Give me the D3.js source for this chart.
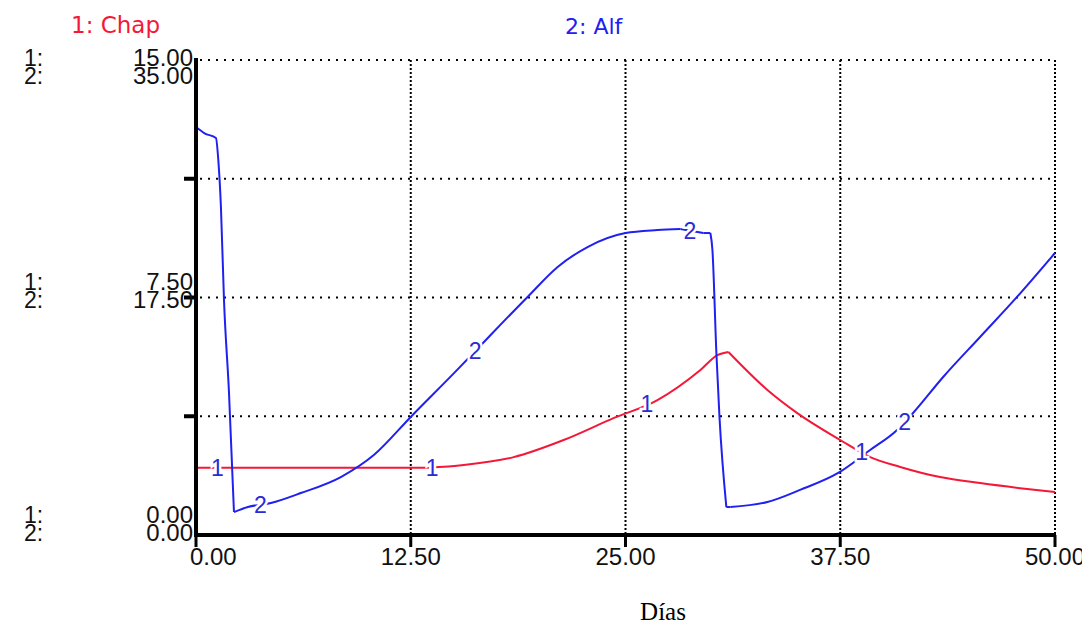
<!DOCTYPE html>
<html>
<head>
<meta charset="utf-8">
<script src="https://cdn.jsdelivr.net/npm/d3@7"></script>
<style>
  html, body { margin: 0; padding: 0; background: #ffffff; }
  svg { display: block; }
</style>
</head>
<body>
<svg id="chart" width="1082" height="631"></svg>
<script>
// ---------- data ----------
const seriesNames = ["1: Chap", "2: Alf"];
const xLabel = "Días";

// time axis
const xTicks = [0, 12.5, 25, 37.5, 50];
const xTickLabels = ["0.00", "12.50", "25.00", "37.50", "50.00"];

// series 1 axis (Chap) and series 2 axis (Alf)
const y1Ticks = [0, 7.5, 15];
const y1TickLabels = ["0.00", "7.50", "15.00"];
const y2Ticks = [0, 17.5, 35];
const y2TickLabels = ["0.00", "17.50", "35.00"];
const gridFractions = [0.25, 0.5, 0.75, 1.0];

// series 1: Chap
const chapT = [0, 13.5, 15.58, 18.49, 21.4, 24.3, 26.86, 29.36, 30.35, 30.99, 33.26, 35.0, 37.5, 39.24, 40.99, 43.31, 45.64, 47.97, 50];
const chap  = [2.12, 2.12, 2.21, 2.46, 3.0, 3.69, 4.26, 5.21, 5.68, 5.78, 4.58, 3.85, 3.0, 2.46, 2.15, 1.83, 1.64, 1.48, 1.36];

// series 2: Alf
const alfT = [0, 0.5, 1.16, 1.3, 1.45, 1.63, 1.92, 2.21, 3.02, 4.36, 6.10, 8.43, 10.35, 12.5, 15.23, 17.15, 19.3, 21.05, 22.79, 25.0, 26.86, 28.2, 29.53, 29.94, 30.06, 30.29, 30.47, 30.87, 31.1, 33.26, 35.16, 37.38, 39.24, 40.81, 41.74, 43.49, 45.64, 47.79, 50];
const alf  = [30.06, 29.6, 29.25, 27.6, 24.2, 17.3, 10.5, 1.69, 2.06, 2.36, 3.09, 4.27, 5.89, 8.7, 12.2, 14.74, 17.54, 19.75, 21.22, 22.25, 22.47, 22.55, 22.25, 22.25, 21.0, 13.41, 8.69, 2.06, 2.06, 2.43, 3.32, 4.57, 6.26, 7.74, 8.99, 11.64, 14.59, 17.54, 20.78];

// positions of the line-identifying numbers along each curve (time)
const chapLabelT = [1.25, 13.75, 26.25, 38.75];
const alfLabelT  = [3.75, 16.25, 28.75, 41.25];

// ---------- drawing ----------
const svg = d3.select("#chart");
const RED = "#f41838", BLUE = "#2020f0", LABELBLUE = "#2a2ad6";
const numFont = "'Liberation Sans', Arial, sans-serif";

const x = d3.scaleLinear().domain([0, 50]).range([196, 1055]);
const y1 = d3.scaleLinear().domain([0, 15]).range([535, 60]);
const y2 = d3.scaleLinear().domain([0, 35]).range([535, 60]);

// legend
svg.append("text").attr("x", 71).attr("y", 33).attr("fill", RED)
  .attr("font-family", "'DejaVu Sans', sans-serif").attr("font-size", 23).text(seriesNames[0]);
svg.append("text").attr("x", 565).attr("y", 34).attr("fill", BLUE)
  .attr("font-family", "'DejaVu Sans', sans-serif").attr("font-size", 22).text(seriesNames[1]);

// horizontal dotted grid
const g = svg.append("g");
gridFractions.forEach(f => {
  const yy = y1(15 * f);
  g.append("line").attr("x1", x(0) + 4).attr("x2", x(50)).attr("y1", yy).attr("y2", yy)
    .attr("stroke", "#000").attr("stroke-width", 2).attr("stroke-dasharray", "2,6");
});
// vertical dotted grid
xTicks.slice(1).forEach(t => {
  g.append("line").attr("x1", x(t)).attr("x2", x(t)).attr("y1", y1(15)).attr("y2", y1(0))
    .attr("stroke", "#000").attr("stroke-width", 2).attr("stroke-dasharray", "2,2");
});

// lines: smooth monotone pieces, broken at turning points so corners stay sharp
function pieces(ts, vs) {
  const pts = ts.map((t, i) => [t, vs[i]]);
  const out = [];
  let cur = [pts[0]];
  for (let i = 1; i < pts.length; i++) {
    cur.push(pts[i]);
    if (i < pts.length - 1) {
      const a = pts[i][1] - pts[i - 1][1], b = pts[i + 1][1] - pts[i][1];
      if (a * b < 0 || (a !== 0 && b === 0) || (a === 0 && b !== 0)) {
        out.push(cur);
        cur = [pts[i]];
      }
    }
  }
  out.push(cur);
  return out;
}
function drawSeries(ts, vs, yScale, color) {
  const ln = d3.line().x(d => x(d[0])).y(d => yScale(d[1])).curve(d3.curveMonotoneX);
  pieces(ts, vs).forEach(p => {
    svg.append("path").attr("d", ln(p)).attr("fill", "none").attr("stroke", color)
      .attr("stroke-width", 2).attr("stroke-linejoin", "round");
  });
}
drawSeries(chapT, chap, y1, RED);
drawSeries(alfT, alf, y2, BLUE);

// curve-number labels
function interp(ts, vs, t) {
  for (let i = 1; i < ts.length; i++) {
    if (t <= ts[i]) {
      const f = (t - ts[i - 1]) / (ts[i] - ts[i - 1]);
      return vs[i - 1] + f * (vs[i] - vs[i - 1]);
    }
  }
  return vs[vs.length - 1];
}
function curveLabels(ts, vs, lt, yScale, txt) {
  lt.forEach(t => {
    svg.append("text").attr("x", x(t)).attr("y", yScale(interp(ts, vs, t)) + 8)
      .attr("text-anchor", "middle").attr("font-family", numFont).attr("font-size", 23)
      .attr("fill", LABELBLUE).attr("stroke", "#fff").attr("stroke-width", 5)
      .attr("paint-order", "stroke").text(txt);
  });
}
curveLabels(chapT, chap, chapLabelT, y1, "1");
curveLabels(alfT, alf, alfLabelT, y2, "2");

// axes
svg.append("line").attr("x1", x(0)).attr("x2", x(0)).attr("y1", y1(15) - 2).attr("y2", y1(0) + 2)
  .attr("stroke", "#000").attr("stroke-width", 4);
svg.append("line").attr("x1", x(0) - 2).attr("x2", x(50) + 1).attr("y1", y1(0)).attr("y2", y1(0))
  .attr("stroke", "#000").attr("stroke-width", 4);

// left tick marks
gridFractions.slice(0, 3).forEach(f => {
  svg.append("line").attr("x1", x(0) - 12).attr("x2", x(0)).attr("y1", y1(15 * f)).attr("y2", y1(15 * f))
    .attr("stroke", "#000").attr("stroke-width", 4);
});
// bottom tick marks
xTicks.forEach(t => {
  svg.append("line").attr("x1", x(t)).attr("x2", x(t)).attr("y1", y1(0)).attr("y2", y1(0) + 12)
    .attr("stroke", "#000").attr("stroke-width", 3);
});

// x tick labels
xTicks.forEach((t, i) => {
  const first = i === 0;
  svg.append("text").attr("x", first ? x(t) - 6 : x(t)).attr("y", 565)
    .attr("text-anchor", first ? "start" : "middle")
    .attr("font-family", numFont).attr("font-size", 24).attr("fill", "#111")
    .text(xTickLabels[i]);
});

// y tick labels (paired: series 1 above series 2)
y1Ticks.forEach((t, i) => {
  const yy = y1(t);
  const b2 = Math.max(84, Math.min(541, yy + 10));
  const b1 = b2 - 18;
  svg.append("text").attr("x", 193).attr("y", b1).attr("text-anchor", "end")
    .attr("font-family", numFont).attr("font-size", 24).attr("fill", "#111").text(y1TickLabels[i]);
  svg.append("text").attr("x", 193).attr("y", b2).attr("text-anchor", "end")
    .attr("font-family", numFont).attr("font-size", 24).attr("fill", "#111").text(y2TickLabels[i]);
  svg.append("text").attr("x", 24).attr("y", b1)
    .attr("font-family", numFont).attr("font-size", 23).attr("fill", "#111").text("1:");
  svg.append("text").attr("x", 24).attr("y", b2)
    .attr("font-family", numFont).attr("font-size", 23).attr("fill", "#111").text("2:");
});

// x axis title
svg.append("text").attr("x", 663).attr("y", 620).attr("text-anchor", "middle")
  .attr("font-family", "'Liberation Serif', 'Times New Roman', serif").attr("font-size", 25)
  .attr("fill", "#000").text(xLabel);
</script>
</body>
</html>
